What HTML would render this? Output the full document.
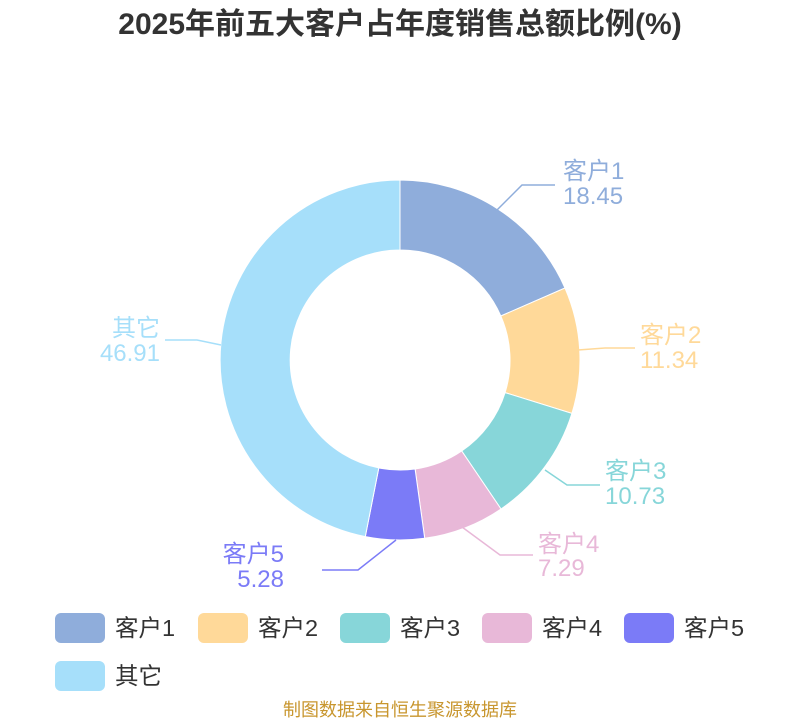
<!DOCTYPE html>
<html><head><meta charset="utf-8">
<style>
html,body{margin:0;padding:0;background:#fff;}
body{width:800px;height:720px;overflow:hidden;font-family:"Liberation Sans","Noto Sans CJK SC",sans-serif;}
</style></head>
<body>
<svg width="800" height="720" viewBox="0 0 800 720" xmlns="http://www.w3.org/2000/svg" font-family="Liberation Sans, Noto Sans CJK SC, sans-serif">
<text x="400" y="34" text-anchor="middle" font-size="30" font-weight="bold" fill="#333">2025年前五大客户占年度销售总额比例(%)</text>
<g stroke="#fff" stroke-width="1">
<path d="M400,180 A180,180 0 0 1 564.97,288 L500.8,316 A110,110 0 0 0 400,250 Z" fill="#8faddb"/>
<path d="M564.97,288 A180,180 0 0 1 571.9,413.4 L505.1,392.6 A110,110 0 0 0 500.8,316 Z" fill="#ffd999"/>
<path d="M571.9,413.4 A180,180 0 0 1 501,509 L461.7,451 A110,110 0 0 0 505.1,392.6 Z" fill="#87d6d9"/>
<path d="M501,509 A180,180 0 0 1 424.7,538.3 L415.1,469 A110,110 0 0 0 461.7,451 Z" fill="#e8b8d8"/>
<path d="M424.7,538.3 A180,180 0 0 1 365.3,536.6 L378.8,467.9 A110,110 0 0 0 415.1,469 Z" fill="#7b7bf7"/>
<path d="M365.3,536.6 A180,180 0 0 1 400,180 L400,250 A110,110 0 0 0 378.8,467.9 Z" fill="#a6dffa"/>
</g>
<g fill="none" stroke-width="1.5">
<polyline points="495,212 522,185 555,185" stroke="#8faddb"/>
<polyline points="578,350 605,348 635,348" stroke="#ffd999"/>
<polyline points="545,470 567,485 600,485" stroke="#87d6d9"/>
<polyline points="462,527 500,555 533,555" stroke="#e8b8d8"/>
<polyline points="396,540 358,570 322,570" stroke="#7b7bf7"/>
<polyline points="221,345 197,340 165,340" stroke="#a6dffa"/>
</g>
<g font-size="24">
<text x="563" y="179" fill="#8faddb">客户1</text><text x="563" y="204" fill="#8faddb">18.45</text>
<text x="640" y="343" fill="#ffd999">客户2</text><text x="640" y="368" fill="#ffd999">11.34</text>
<text x="605" y="479" fill="#87d6d9">客户3</text><text x="605" y="504" fill="#87d6d9">10.73</text>
<text x="538" y="552" fill="#e8b8d8">客户4</text><text x="538" y="576" fill="#e8b8d8">7.29</text>
<text x="284" y="562" text-anchor="end" fill="#7b7bf7">客户5</text><text x="284" y="587" text-anchor="end" fill="#7b7bf7">5.28</text>
<text x="160" y="336" text-anchor="end" fill="#a6dffa">其它</text><text x="160" y="361" text-anchor="end" fill="#a6dffa">46.91</text>
</g>
<g font-size="23.5" fill="#333">
<rect x="55" y="613" width="50" height="30" rx="6" fill="#8faddb"/><text x="115" y="636">客户1</text>
<rect x="198" y="613" width="50" height="30" rx="6" fill="#ffd999"/><text x="258" y="636">客户2</text>
<rect x="340" y="613" width="50" height="30" rx="6" fill="#87d6d9"/><text x="400" y="636">客户3</text>
<rect x="482" y="613" width="50" height="30" rx="6" fill="#e8b8d8"/><text x="542" y="636">客户4</text>
<rect x="624" y="613" width="50" height="30" rx="6" fill="#7b7bf7"/><text x="684" y="636">客户5</text>
<rect x="55" y="661" width="50" height="30" rx="6" fill="#a6dffa"/><text x="115" y="684">其它</text>
</g>
<text x="400" y="716" text-anchor="middle" font-size="18" fill="#c8962e">制图数据来自恒生聚源数据库</text>
</svg>
</body></html>
